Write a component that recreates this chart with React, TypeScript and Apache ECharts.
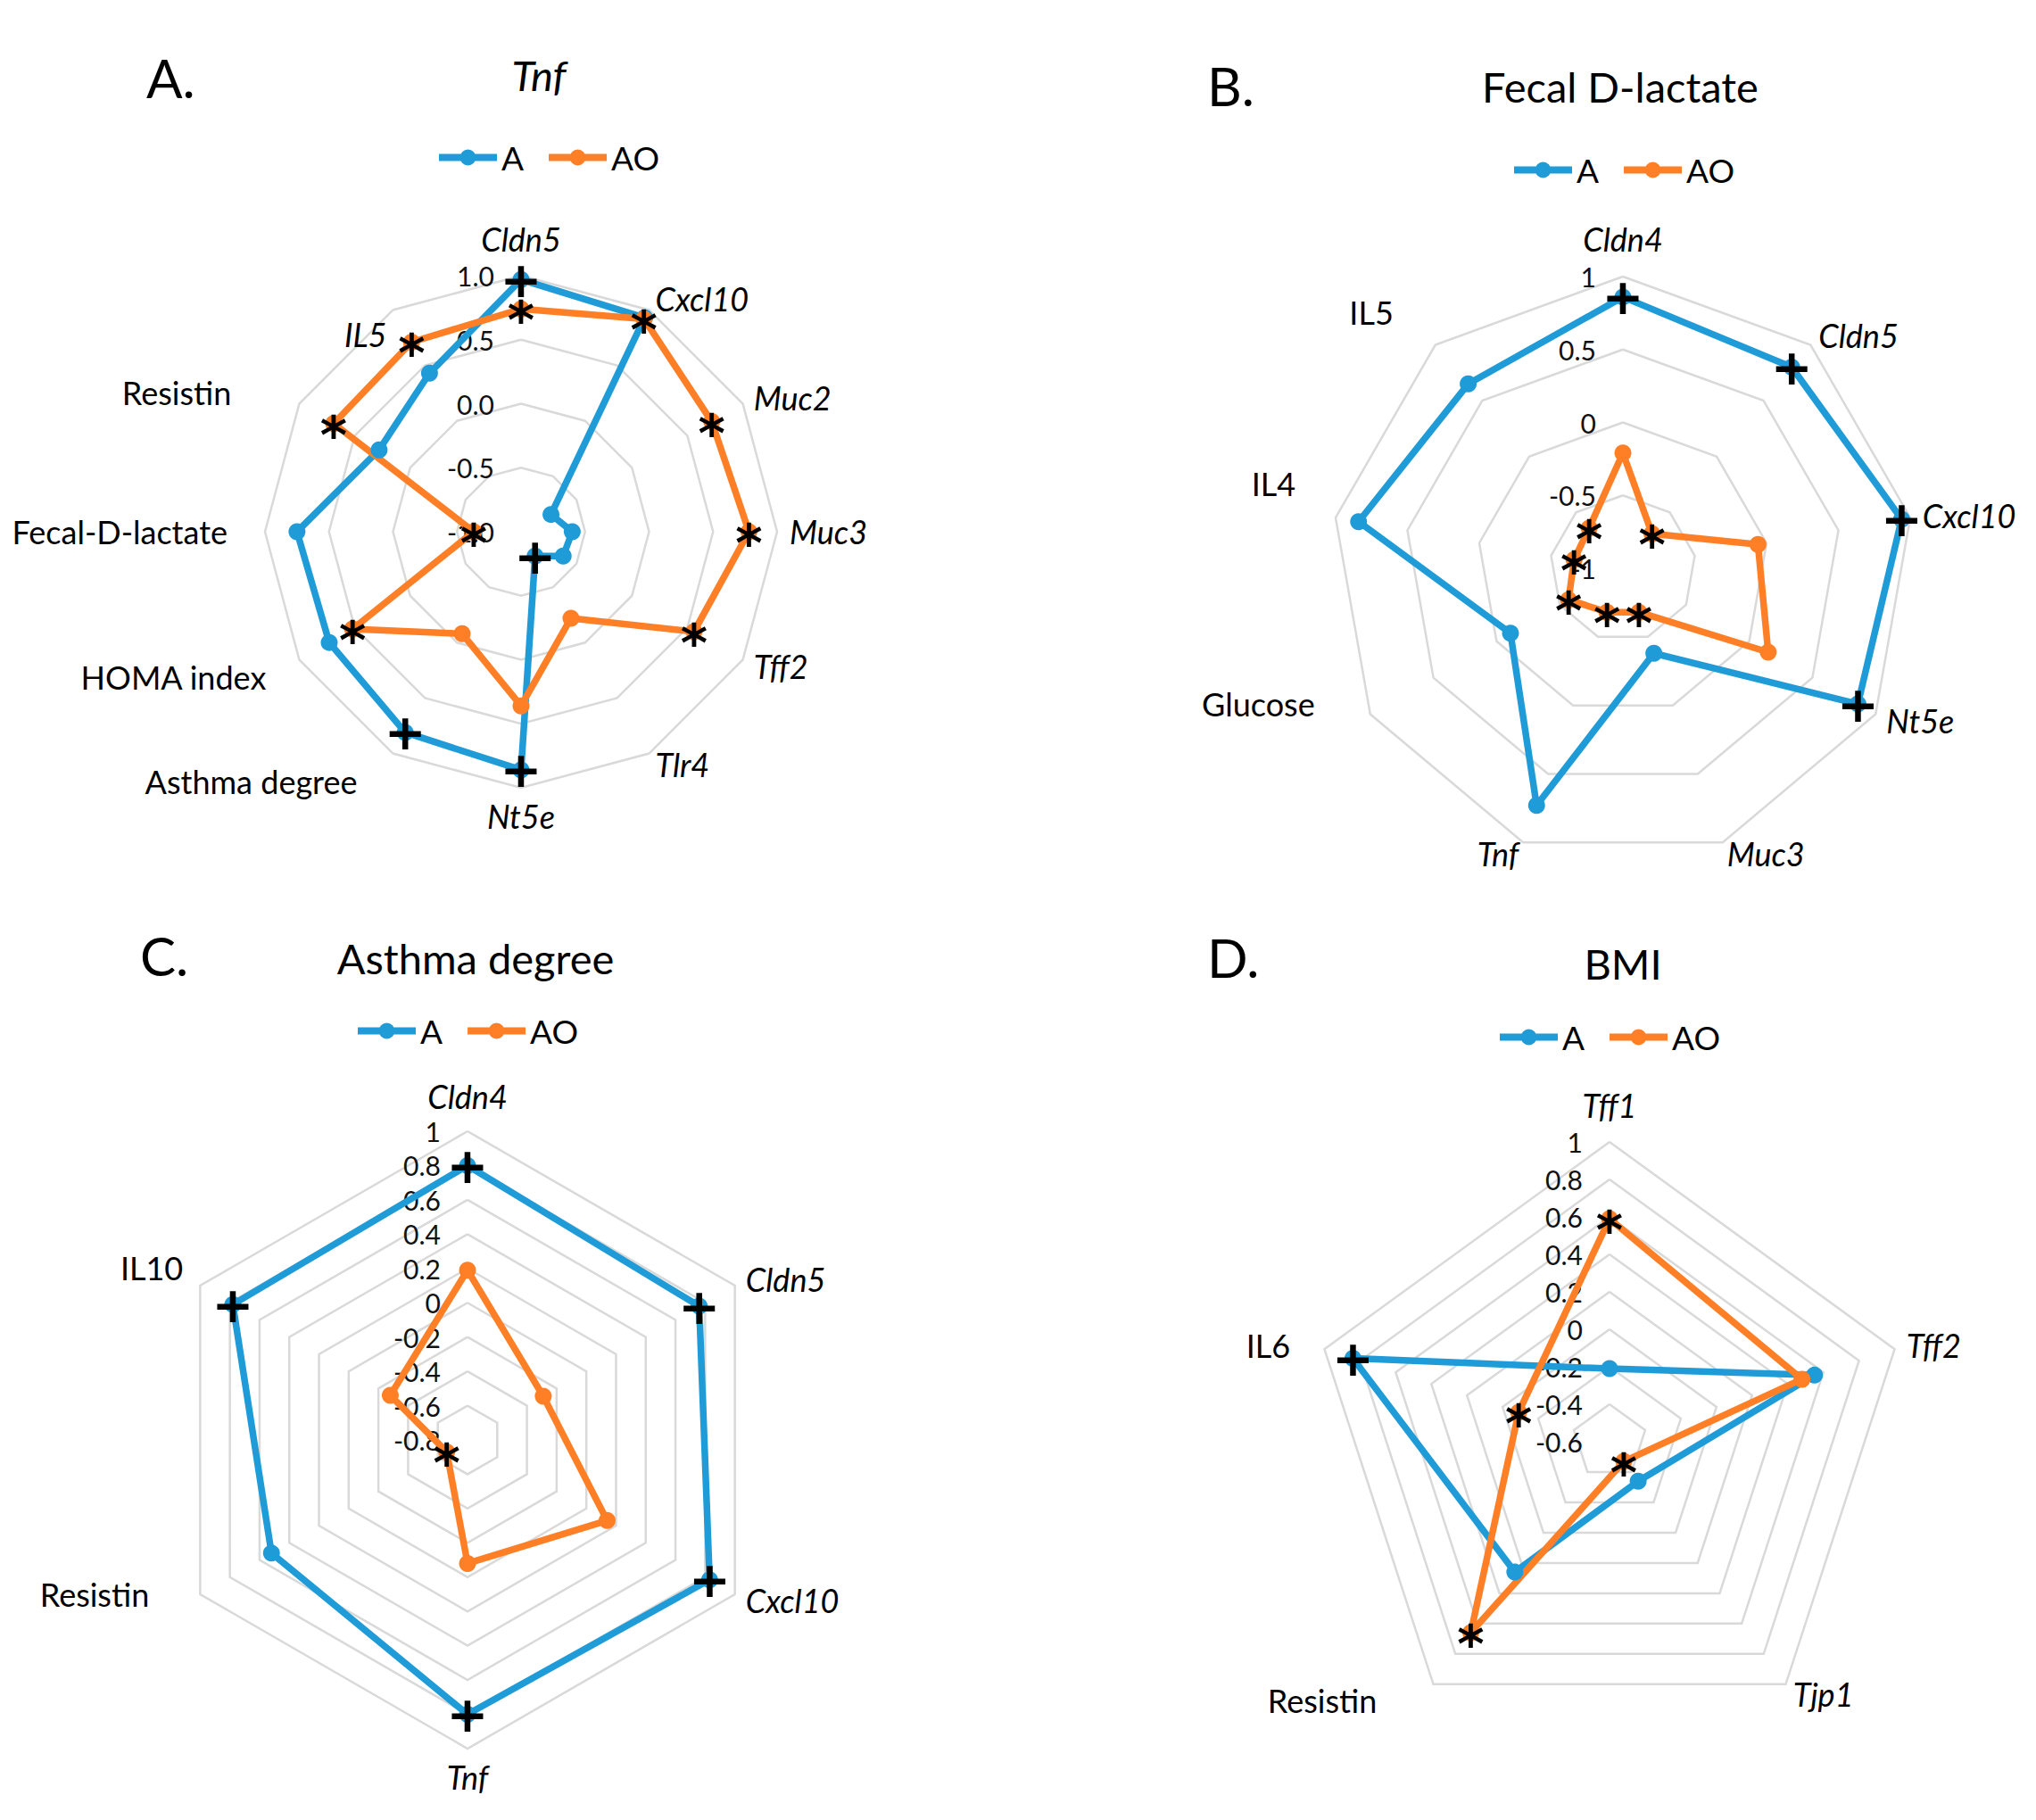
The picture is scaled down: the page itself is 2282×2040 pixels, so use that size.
import React, { useEffect, useRef } from 'react';
import * as echarts from 'echarts';

const BLUE = '#1f9bd7';
const ORANGE = '#ff7f27';
const FONT = 'Lato';

// ---------- Panel A: Tnf ----------
const catsA = ['Cldn5', 'Cxcl10', 'Muc2', 'Muc3', 'Tff2', 'Tlr4', 'Nt5e', 'Asthma degree', 'HOMA index', 'Fecal-D-lactate', 'Resistin', 'IL5'];
const valsA_A = [0.97, 0.93, -0.73, -0.60, -0.62, -0.78, 0.86, 0.81, 0.73, 0.75, 0.28, 0.43];
const valsA_AO = [0.74, 0.92, 0.72, 0.78, 0.56, -0.22, 0.36, -0.08, 0.52, -0.63, 0.69, 0.71];
const plusA = [1, 0, 0, 0, 0, 1, 1, 1, 0, 0, 0, 0];
const starA = [1, 1, 1, 1, 1, 0, 0, 0, 1, 1, 1, 1];
const italA = [1, 1, 1, 1, 1, 1, 1, 0, 0, 0, 0, 1];

// ---------- Panel B: Fecal D-lactate ----------
const catsB = ['Cldn4', 'Cldn5', 'Cxcl10', 'Nt5e', 'Muc3', 'Tnf', 'Glucose', 'IL4', 'IL5'];
const valsB_A = [0.86, 0.80, 0.94, 0.86, -0.38, 0.73, -0.11, 0.84, 0.65];
const valsB_AO = [-0.21, -0.69, -0.06, 0.15, -0.68, -0.68, -0.57, -0.66, -0.64];
const plusB = [1, 1, 1, 1, 0, 0, 0, 0, 0];
const starB = [0, 1, 0, 0, 1, 1, 1, 1, 1];
const italB = [1, 1, 1, 1, 1, 1, 0, 0, 0];

// ---------- Panel C: Asthma degree ----------
const catsC = ['Cldn4', 'Cldn5', 'Cxcl10', 'Tnf', 'Resistin', 'IL10'];
const valsC_A = [0.80, 0.76, 0.83, 0.80, 0.52, 0.78];
const valsC_AO = [0.19, -0.29, 0.14, -0.08, -0.66, -0.28];
const plusC = [1, 1, 1, 1, 0, 1];
const starC = [0, 0, 0, 0, 1, 0];
const italC = [1, 1, 1, 1, 0, 0];

// ---------- Panel D: BMI ----------
const catsD = ['Tff1', 'Tff2', 'Tjp1', 'Resistin', 'IL6'];
const valsD_A = [-0.21, 0.55, -0.34, 0.26, 0.84];
const valsD_AO = [0.59, 0.48, -0.47, 0.66, -0.09];
const plusD = [0, 0, 0, 0, 1];
const starD = [1, 0, 1, 1, 1];
const italD = [1, 1, 1, 0, 0];

const titles = ['Tnf', 'Fecal D-lactate', 'Asthma degree', 'BMI'];
const titleItalic = [true, false, false, false];
const letters = ['A.', 'B.', 'C.', 'D.'];
const seriesNames = ['A', 'AO'];

// layout (pixels) and per-name nudges [dx, dy] (style only)
const layout = [
  {
    center: [584, 596], radius: 287, min: -1, max: 1, split: 4, dec: 1,
    title: [604, 84], letter: [164, 87], legend: [487, 153],
    shift: [[0, -9], [0, 0], [0, 0], [0, 0], [0, 0], [0, 0], [0, 0], [-33, 19], [-25, 12], [-28, 0], [-64, -6], [0, 40]],
  },
  {
    center: [1819, 637], radius: 327, min: -1, max: 1, split: 4, dec: 0,
    title: [1816, 97], letter: [1353, 96], legend: [1692, 167],
    shift: [[0, -10], [0, 0], [0, 0], [0, 0], [0, 0], [0, 0], [-50, -19], [-31, -36], [-38, -26]],
  },
  {
    center: [524, 1614], radius: 346, min: -0.8, max: 1, split: 9, dec: 0,
    title: [533, 1074], letter: [157, 1071], legend: [396, 1132],
    shift: [[0, -7], [0, 0], [0, 0], [0, 0], [-45, -7], [-7, -13]],
  },
  {
    center: [1804, 1616], radius: 336, min: -0.6, max: 1, split: 8, dec: 0,
    title: [1819, 1080], letter: [1353, 1073], legend: [1676, 1139],
    shift: [[0, -9], [0, 0], [0, 0], [-55, 7], [-25, 0]],
  },
];

const panels = [
  { cats: catsA, a: valsA_A, ao: valsA_AO, plus: plusA, star: starA, ital: italA },
  { cats: catsB, a: valsB_A, ao: valsB_AO, plus: plusB, star: starB, ital: italB },
  { cats: catsC, a: valsC_A, ao: valsC_AO, plus: plusC, star: starC, ital: italC },
  { cats: catsD, a: valsD_A, ao: valsD_AO, plus: plusD, star: starD, ital: italD },
];

// ECharts lays indicators counter-clockwise; reorder so they run clockwise
function reorder<T>(arr: T[]): T[] {
  return [arr[0], ...arr.slice(1).reverse()];
}

const LEG_ICON = 'path://M0,4.5 H65 V12.5 H0 Z M23.5,8.5 A9,9 0 1,1 41.5,8.5 A9,9 0 1,1 23.5,8.5 Z';
const NAME_SIZE = 36;

function paddingFor(dx: number, dy: number, idx: number, n: number): number[] {
  // idx in clockwise order; 0 = top
  const pad = [0, 0, 0, 0]; // top right bottom left
  if (idx === 0) {
    // bottom-aligned text at top
    if (dy < 0) pad[2] = -dy; else pad[0] = dy;
    return pad;
  }
  if (dy > 0) pad[0] = 2 * dy; else if (dy < 0) pad[2] = -2 * dy;
  if (dx < 0) pad[1] = -dx; else if (dx > 0) pad[3] = dx;
  return pad;
}

function buildOption() {
  const radar: any[] = [];
  const series: any[] = [];
  const legend: any[] = [];
  const graphic: any[] = [];

  panels.forEach((p, k) => {
    const L = layout[k];
    const n = p.cats.length;
    const fmt = (v: number) => (L.dec === 1 ? v.toFixed(1) : String(Number(v.toFixed(1))));
    const inds = p.cats.map((c, i) => {
      const ind: any = {
        name: p.ital[i] ? `{it|${c}}` : `{n|${c}}`,
        min: L.min,
        max: L.max,
      };
      const [dx, dy] = L.shift[i];
      if (dx || dy) ind.nameTextStyle = { padding: paddingFor(dx, dy, i, n) };
      if (i === 0) {
        ind.axisLabel = { show: true, margin: 30, fontFamily: FONT, fontSize: 30, color: '#111', formatter: fmt };
      }
      return ind;
    });
    radar.push({
      center: L.center,
      radius: L.radius,
      startAngle: 90,
      splitNumber: L.split,
      shape: 'polygon',
      nameGap: 14,
      indicator: reorder(inds),
      axisName: {
        color: '#000',
        fontFamily: FONT,
        fontSize: NAME_SIZE,
        rich: {
          it: { fontStyle: 'italic', fontFamily: FONT, fontSize: NAME_SIZE, color: '#000' },
          n: { fontFamily: FONT, fontSize: NAME_SIZE, color: '#000' },
        },
      },
      axisLine: { show: false },
      axisTick: { show: false },
      axisLabel: { show: false },
      splitLine: { lineStyle: { color: '#d9d9d9', width: 2.5 } },
      splitArea: { show: false },
    });

    const mainSeries = (vals: number[], name: string, color: string) => ({
      type: 'radar',
      radarIndex: k,
      z: 2,
      symbol: 'circle',
      symbolSize: 19,
      lineStyle: { color, width: 7.5 },
      itemStyle: { color },
      data: [{ name, value: reorder(vals) }],
    });
    series.push(mainSeries(p.a, seriesNames[0], BLUE));
    series.push(mainSeries(p.ao, seriesNames[1], ORANGE));

    const markSeries = (vals: number[], marks: number[], glyph: string, offY: number, size: number) => {
      const m = reorder(marks);
      return {
        type: 'radar',
        radarIndex: k,
        z: 5,
        symbol: 'circle',
        symbolSize: 1,
        lineStyle: { width: 0, opacity: 0 },
        itemStyle: { color: 'rgba(0,0,0,0)' },
        label: {
          show: true,
          position: 'inside',
          offset: [0, offY],
          color: '#000',
          fontFamily: 'DejaVu Sans',
          fontWeight: 'bold',
          fontSize: size,
          formatter: (prm: any) => (m[prm.dimensionIndex] ? glyph : ''),
        },
        data: [{ name: glyph + 'mark', value: reorder(vals) }],
      };
    };
    series.push(markSeries(p.a, p.plus, '+', 0, 56));
    series.push(markSeries(p.ao, p.star, '*', 13, 58));

    legend.push({
      data: seriesNames,
      left: L.legend[0],
      top: L.legend[1],
      icon: LEG_ICON,
      itemWidth: 65,
      itemHeight: 18,
      itemGap: 28,
      textStyle: { fontFamily: FONT, fontSize: 37, color: '#000' },
    });

    graphic.push({
      type: 'text',
      x: L.title[0],
      y: L.title[1],
      style: {
        text: titles[k],
        fontFamily: FONT,
        fontSize: 47,
        fontStyle: titleItalic[k] ? 'italic' : 'normal',
        fill: '#000',
        align: 'center',
        verticalAlign: 'middle',
      },
    });
    graphic.push({
      type: 'text',
      x: L.letter[0],
      y: L.letter[1],
      style: {
        text: letters[k],
        fontFamily: FONT,
        fontSize: 60,
        fill: '#000',
        align: 'left',
        verticalAlign: 'middle',
      },
    });
  });

  return { animation: false, backgroundColor: '#fff', radar, series, legend, graphic };
}

export default function App() {
  const ref = useRef<HTMLDivElement>(null);
  useEffect(() => {
    if (!ref.current) return;
    const chart = echarts.init(ref.current, undefined, { renderer: 'svg' });
    chart.setOption(buildOption() as any);
    return () => chart.dispose();
  }, []);
  return (
    <div
      ref={ref}
      style={{ position: 'fixed', left: 0, top: 0, width: 2282, height: 2040, background: '#fff' }}
    />
  );
}
